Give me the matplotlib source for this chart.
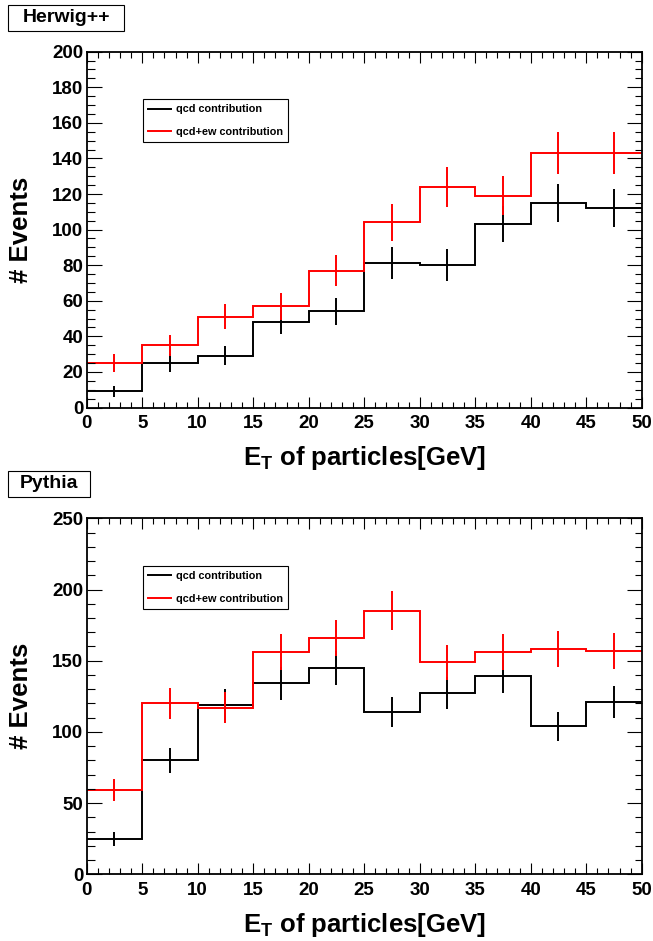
import numpy as np
import matplotlib.pyplot as plt
from matplotlib.patches import Rectangle

plt.rcParams['font.family'] = 'Liberation Sans'
plt.rcParams['font.weight'] = 'bold'
plt.rcParams['axes.labelweight'] = 'bold'
plt.rcParams['mathtext.fontset'] = 'custom'
plt.rcParams['mathtext.rm'] = 'Liberation Sans:bold'
plt.rcParams['mathtext.it'] = 'Liberation Sans:bold'
plt.rcParams['mathtext.bf'] = 'Liberation Sans:bold'

# bin edges of the E_T histograms (GeV)
edges = np.arange(0, 55, 5)

# event counts per bin
herwig_qcd = [9, 25, 29, 48, 54, 81, 80, 103, 115, 112]
herwig_qcd_ew = [25, 35, 51, 57, 77, 104, 124, 119, 143, 143]
pythia_qcd = [25, 80, 119, 134, 145, 114, 127, 139, 104, 121]
pythia_qcd_ew = [59, 120, 117, 156, 166, 185, 149, 156, 158, 157]

series_labels = ['qcd contribution', 'qcd+ew contribution']
W, H = 653, 941


def draw_panel(ax, qcd, qcd_ew, ymax, ymajor, yminor):
    centers = (edges[:-1] + edges[1:]) / 2
    for vals, col, lab in [(qcd, 'black', series_labels[0]), (qcd_ew, 'red', series_labels[1])]:
        vals = np.array(vals, dtype=float)
        ax.stairs(vals, edges, baseline=None, color=col, lw=1.4, label=lab)
        # poisson errors like root's E option
        ax.errorbar(centers, vals, yerr=np.sqrt(vals), fmt='none', ecolor=col,
                    elinewidth=1.4, capsize=0)
    ax.set_xlim(0, 50)
    ax.set_ylim(0, ymax)
    ax.set_xticks(np.arange(0, 51, 5))
    ax.set_xticks(np.arange(0, 51, 1), minor=True)
    ax.set_yticks(np.arange(0, ymax + 1, ymajor))
    ax.set_yticks(np.arange(0, ymax + 1, yminor), minor=True)
    ax.tick_params(axis='x', which='major', direction='in', length=7.9, width=0.8,
                   top=True, labelsize=13.5, pad=5.5)
    ax.tick_params(axis='x', which='minor', direction='in', length=4, width=0.8, top=True)
    ax.tick_params(axis='y', which='major', direction='in', length=10.8, width=0.8,
                   right=True, labelsize=13.5, pad=2.5)
    ax.tick_params(axis='y', which='minor', direction='in', length=5.4, width=0.8, right=True)
    for s in ax.spines.values():
        s.set_linewidth(1.3)
    ax.set_xlabel('E$_{\\mathrm{T}}$ of particles[GeV]', fontsize=18.5, labelpad=8.5)
    ax.set_ylabel('# Events', fontsize=18.5)
    ax.yaxis.set_label_coords(-0.096, 0.5)
    leg = ax.legend(loc='upper left', bbox_to_anchor=(0.1014, 0.867), borderaxespad=0,
                    fontsize=7.8, frameon=True, fancybox=False, edgecolor='black',
                    framealpha=1, handlelength=2.1, handletextpad=0.45,
                    labelspacing=1.15, borderpad=0.5)
    leg.get_frame().set_linewidth(0.8)


def title_box(fig, x0, y0, x1, y1, text):
    fig.add_artist(Rectangle((x0 / W, 1 - y1 / H), (x1 - x0) / W, (y1 - y0) / H,
                             transform=fig.transFigure, facecolor='white',
                             edgecolor='black', lw=0.8))
    fig.text((x0 + x1) / 2 / W, 1 - (y0 + y1) / 2 / H, text, ha='center', va='center',
             fontsize=14)


fig = plt.figure(figsize=(W / 100, H / 100), dpi=100)
ax1 = fig.add_axes([86.7 / W, 1 - 407.5 / H, 555 / W, 355.8 / H])
ax2 = fig.add_axes([86.7 / W, 1 - 874.3 / H, 555 / W, 356 / H])

draw_panel(ax1, herwig_qcd, herwig_qcd_ew, 200, 20, 5)
draw_panel(ax2, pythia_qcd, pythia_qcd_ew, 250, 50, 10)

title_box(fig, 8.3, 4.7, 123.7, 31, 'Herwig++')
title_box(fig, 8, 471, 90, 496.7, 'Pythia')

fig.savefig('out.png', dpi=100)
